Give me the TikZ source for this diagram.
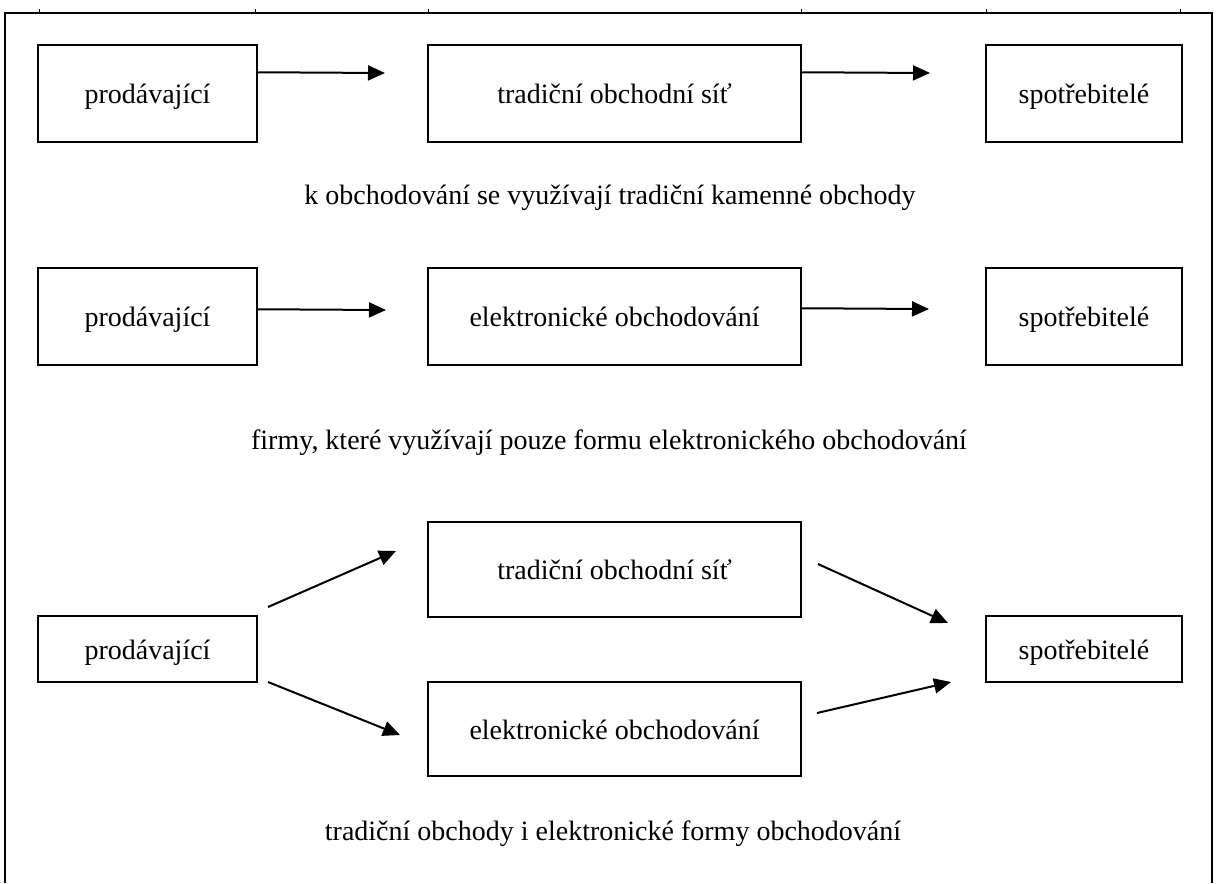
\documentclass[tikz,border=0pt]{standalone}
\usepackage{fontspec}
\setmainfont{Liberation Serif}
\usetikzlibrary{arrows.meta,calc}
\begin{document}
\begin{tikzpicture}[x=1pt,y=-1pt,
  txt/.style={font=\fontsize{28}{30}\selectfont},
  box/.style={draw,line width=1.5pt,inner sep=0pt,txt,text height=24pt,text depth=4pt},
  sbox/.style={box,minimum width=219pt},
  mbox/.style={box,minimum width=373pt},
  cbox/.style={box,minimum width=196pt},
  caption/.style={txt,inner sep=0pt},
  arr/.style={line width=2pt,-{Triangle[length=17pt,width=15pt]}},
  frame/.style={line width=2pt},
  rulertick/.style={line width=1pt}]
\useasboundingbox (0,0) rectangle (1217,883);

% outer frame with ruler ticks
\draw[frame] (5,883) -- (5,13) -- (1212,13) -- (1212,883);
\foreach \x in {39,255,428,801,986,1180}
  \draw[rulertick] (\x,9) -- (\x,13);

% row 1: traditional trade
\node[sbox,minimum height=97pt] (s1) at (147.5,93.5) {prodávající};
\node[mbox,minimum height=97pt] (m1) at (614.5,93.5) {tradiční obchodní síť};
\node[cbox,minimum height=97pt] (c1) at (1084,93.5) {spotřebitelé};
\coordinate (a1) at (385,73);
\coordinate (b1) at (930,73);
\draw[arr] ($(s1.north east)+(0,28)$) -- (a1);
\draw[arr] ($(m1.north east)+(0,28)$) -- (b1);
\node[caption] (k1) at (610,198) {k obchodování se využívají tradiční kamenné obchody};

% row 2: e-commerce only
\node[sbox,minimum height=97pt] (s2) at (147.5,316.5) {prodávající};
\node[mbox,minimum height=97pt] (m2) at (614.5,316.5) {elektronické obchodování};
\node[cbox,minimum height=97pt] (c2) at (1084,316.5) {spotřebitelé};
\coordinate (a2) at (386,310);
\coordinate (b2) at (929,309);
\draw[arr] ($(s2.north east)+(0,42)$) -- (a2);
\draw[arr] ($(m2.north east)+(0,41)$) -- (b2);
\node[caption] (k2) at (609,443) {firmy, které využívají pouze formu elektronického obchodování};

% row 3: both channels
\node[sbox,minimum height=66pt] (s3) at (147.5,649) {prodávající};
\node[mbox,minimum height=95pt] (t3) at (614.5,569.5) {tradiční obchodní síť};
\node[mbox,minimum height=94pt] (e3) at (614.5,729) {elektronické obchodování};
\node[cbox,minimum height=66pt] (c3) at (1084,649) {spotřebitelé};
\coordinate (p1) at (268,607);
\coordinate (p2) at (396,551);
\coordinate (p3) at (268,682);
\coordinate (p4) at (400,735);
\coordinate (q1) at (818,564);
\coordinate (q2) at (948,623);
\coordinate (q3) at (817,713);
\coordinate (q4) at (951,682);
\draw[arr] (p1) -- (p2);
\draw[arr] (p3) -- (p4);
\draw[arr] (q1) -- (q2);
\draw[arr] (q3) -- (q4);
\node[caption] (k3) at (613,834) {tradiční obchody i elektronické formy obchodování};
\end{tikzpicture}
\end{document}
